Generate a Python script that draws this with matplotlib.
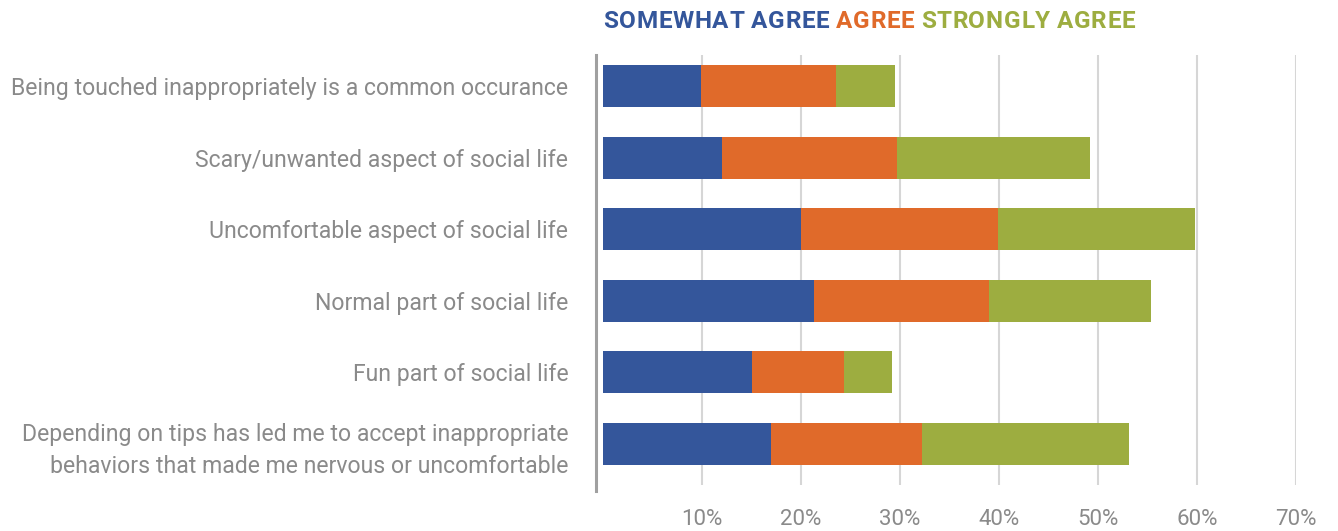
import matplotlib
matplotlib.use("Agg")
import matplotlib.pyplot as plt
import numpy as np

categories = [
    "Being touched inappropriately is a common occurance",
    "Scary/unwanted aspect of social life",
    "Uncomfortable aspect of social life",
    "Normal part of social life",
    "Fun part of social life",
    "Depending on tips has led me to accept inappropriate\nbehaviors that made me nervous or uncomfortable",
]
somewhat_agree = [9.9, 12.0, 20.0, 21.3, 15.1, 17.0]
agree = [13.6, 17.7, 19.9, 17.7, 9.2, 15.2]
strongly_agree = [6.0, 19.5, 19.9, 16.4, 4.9, 20.9]
series_names = ["SOMEWHAT AGREE", "AGREE", "STRONGLY AGREE"]
xticks = [10, 20, 30, 40, 50, 60, 70]
xtick_labels = ["10%", "20%", "30%", "40%", "50%", "60%", "70%"]

colors = ["#34569B", "#E06A2A", "#9DAD40"]
label_color = "#8A8A8A"

W, H = 1338, 531
fig = plt.figure(figsize=(W / 100, H / 100), dpi=100)
ax = fig.add_axes([596 / W, 1 - 485 / H, 700 / W, 430 / H])

y = np.arange(len(categories))
left = np.zeros(len(categories))
for vals, c in zip([somewhat_agree, agree, strongly_agree], colors):
    ax.barh(y, vals, left=left, height=0.587, color=c, zorder=3)
    left = left + np.array(vals)

ax.set_xlim(-0.7, 70)
ax.set_ylim(5.573, -0.433)
ax.set_yticks(y)
ax.set_yticklabels(categories, fontsize=16.6, color=label_color, family="Roboto")
for t in ax.get_yticklabels():
    t.set_linespacing(1.45)
ax.set_xticks(xticks)
ax.set_xticklabels(xtick_labels, fontsize=16, color=label_color, family="Roboto")
ax.tick_params(axis="both", length=0)
ax.tick_params(axis="y", pad=20)
ax.tick_params(axis="x", pad=17)
ax.grid(axis="x", color="#D6D6D6", linewidth=1.5, zorder=0)
for s in ["top", "right", "bottom"]:
    ax.spines[s].set_visible(False)
ax.spines["left"].set_color("#A0A0A0")
ax.spines["left"].set_linewidth(2.2)
ax.spines["left"].set_bounds(5.65, -0.433)

# Title built from letter-spaced characters
fig.canvas.draw()
r = fig.canvas.get_renderer()
tfont = dict(family="Roboto", fontweight="bold", fontsize=17.5)
chars = []
for i, (name, c) in enumerate(zip(series_names, colors)):
    if i > 0:
        chars.append((" ", c))
    for ch in name:
        chars.append((ch, c))

def width(ch):
    if ch == " ":
        return 5.0
    t = fig.text(0, 0, ch, **tfont)
    w = t.get_window_extent(r).width
    t.remove()
    return w

widths = [width(ch) for ch, _ in chars]
x0, x1 = 603, 1135
track = max(0.5, (x1 - x0 - sum(widths)) / (len(chars) - 1))
x = x0
for (ch, c), w in zip(chars, widths):
    if ch != " ":
        fig.text(x / W, 1 - 22 / H, ch, color=c, ha="left", va="center", **tfont)
    x += w + track

fig.savefig("out.png", dpi=100)
